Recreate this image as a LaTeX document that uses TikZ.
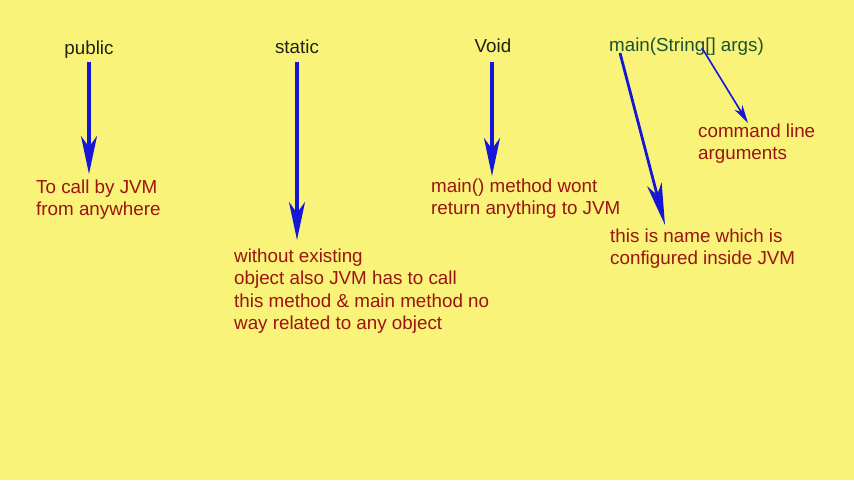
\documentclass[tikz,border=0pt]{standalone}
\usepackage{fontspec}
\setmainfont{Liberation Sans}
\usetikzlibrary{arrows.meta}
\definecolor{bgyellow}{RGB}{250,243,122}
\definecolor{redtext}{RGB}{155,20,16}
\definecolor{headtext}{RGB}{34,34,20}
\definecolor{greentext}{RGB}{26,84,46}
\definecolor{arrowblue}{RGB}{22,22,215}
\tikzset{
  txt/.style={inner sep=0pt, anchor=base west, font=\fontsize{18.8}{22.5}\selectfont},
  head/.style={inner sep=0pt, anchor=base, font=\fontsize{18.8}{22.5}\selectfont, text=headtext},
  expl/.style={txt, text=redtext},
  bigarrow/.style={draw=arrowblue, line width=3.5pt, -{Stealth[length=38pt,width=16pt,inset=11pt]}},
  thinarrow/.style={draw=arrowblue, line width=1.6pt, -{Stealth[length=18pt,width=9pt,inset=5pt]}}
}
\begin{document}
\begin{tikzpicture}[x=1pt,y=-1pt]
\fill[bgyellow] (0,0) rectangle (854,480);
\useasboundingbox (0,0) rectangle (854,480);

\node[head] (pub) at (89,54) {public};
\node[head] (stat) at (297,53) {static};
\node[head] (void) at (493,52) {Void};
\node[txt, text=greentext] (mainsig) at (609,51) {main(String[] args)};

\node[expl] (pubtxt) at (36,193) {\begin{tabular}[t]{@{}l@{}}To call by JVM\\from anywhere\end{tabular}};
\node[expl] (stattxt) at (234,262) {\begin{tabular}[t]{@{}l@{}}without existing\\object also JVM has to call\\this method \& main method no\\way related to any object\end{tabular}};
\node[expl] (voidtxt) at (431,192) {\begin{tabular}[t]{@{}l@{}}main() method wont\\return anything to JVM\end{tabular}};
\node[expl] (argtxt) at (698,137) {\begin{tabular}[t]{@{}l@{}}command line\\arguments\end{tabular}};
\node[expl] (nametxt) at (610,242) {\begin{tabular}[t]{@{}l@{}}this is name which is\\configured inside JVM\end{tabular}};

\coordinate (pubS) at (89,62);   \coordinate (pubE) at (89,174);
\coordinate (statS) at (297,62); \coordinate (statE) at (297,240);
\coordinate (voidS) at (492,62); \coordinate (voidE) at (492,176);
\coordinate (mainS) at (620,53); \coordinate (mainE) at (665,225);
\coordinate (argS) at (702,48);  \coordinate (argE) at (748,123);

\draw[bigarrow] (pubS) -- (pubE);
\draw[bigarrow] (statS) -- (statE);
\draw[bigarrow] (voidS) -- (voidE);
\draw[draw=arrowblue, line width=2.8pt, -{Stealth[length=42pt,width=15pt,inset=11pt]}] (mainS) -- (mainE);
\draw[thinarrow] (argS) -- (argE);
\end{tikzpicture}
\end{document}
